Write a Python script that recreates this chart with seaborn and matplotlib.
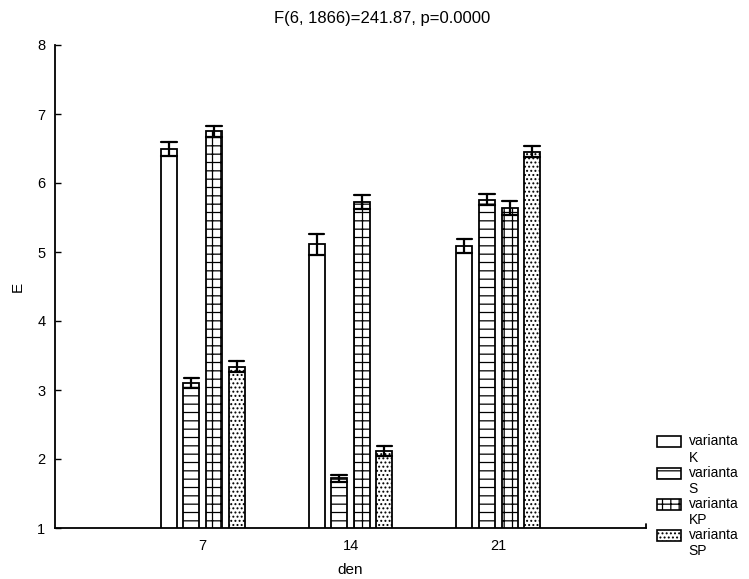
import matplotlib
matplotlib.use("Agg")
import matplotlib.pyplot as plt
from matplotlib.patches import Patch, Rectangle
from matplotlib.legend_handler import HandlerPatch
import seaborn as sns
import pandas as pd

# ---- data ----
days = ["7", "14", "21"]
variants = ["K", "S", "KP", "SP"]
mean_K = [6.49, 5.11, 5.09]
mean_S = [3.10, 1.72, 5.76]
mean_KP = [6.75, 5.73, 5.64]
mean_SP = [3.34, 2.12, 6.45]
err_K = [0.10, 0.15, 0.10]
err_S = [0.07, 0.05, 0.08]
err_KP = [0.08, 0.10, 0.10]
err_SP = [0.08, 0.07, 0.08]
hatches = ["", "--", "++", "...."]

title = "F(6, 1866)=241.87, p=0.0000"

sns.set_theme(style="white")
plt.rcParams["font.family"] = ["Liberation Sans", "DejaVu Sans"]
plt.rcParams["hatch.linewidth"] = 0.9
plt.rcParams["hatch.color"] = "black"
plt.rcParams["text.color"] = "black"
plt.rcParams["axes.labelcolor"] = "black"

means = {"K": mean_K, "S": mean_S, "KP": mean_KP, "SP": mean_SP}
errs = {"K": err_K, "S": err_S, "KP": err_KP, "SP": err_SP}
rows = []
for v in variants:
    for d, m, e in zip(days, means[v], errs[v]):
        # two points per bar: mean equals m, min/max span the error bar
        rows.append({"den": d, "varianta": v, "E": m - e})
        rows.append({"den": d, "varianta": v, "E": m + e})
df = pd.DataFrame(rows)

fig = plt.figure(figsize=(7.49, 5.79), dpi=100)
ax = fig.add_axes([55 / 749, 1 - 528 / 579, (646 - 55) / 749, (528 - 45) / 579])

sns.barplot(data=df, x="den", y="E", hue="varianta", order=days, hue_order=variants,
            palette=["white"] * 4, edgecolor="black", linewidth=1.3,
            errorbar=("pi", 100), capsize=0.42,
            err_kws={"color": "black", "linewidth": 1.6},
            width=0.61, gap=0.29, legend=False, ax=ax)

for cont, h in zip(ax.containers, hatches):
    for bar in cont:
        bar.set_hatch(h)

ax.set_ylim(1, 8)
ax.set_xlim(-1, 3)
ax.set_yticks(range(1, 9))
for s in ["top", "right"]:
    ax.spines[s].set_visible(False)
for s in ["left", "bottom"]:
    ax.spines[s].set_color("black")
    ax.spines[s].set_linewidth(1.3)
ax.tick_params(axis="y", left=True, direction="in", length=4, width=1.0, colors="black",
               labelsize=10.5, pad=7)
ax.tick_params(axis="x", bottom=False, length=0, labelsize=10.5, pad=8, colors="black")
ax.set_xlabel("den", fontsize=11, labelpad=7)
ax.set_ylabel("E", fontsize=11, labelpad=9)
ax.grid(False)
# small end mark at the right end of the x axis
ax.plot([3, 3], [1, 1.06], color="black", lw=1.3, clip_on=False)

fig.text(0.51, 1 - 18 / 579, title, ha="center", va="center", fontsize=12)


def top_patch(legend, orig_handle, xdescent, ydescent, width, height, fontsize):
    return Rectangle((-xdescent, -ydescent + fontsize * 0.6), width, height)


handles = [Patch(facecolor="white", edgecolor="black", hatch=h, linewidth=1.2,
                 label="varianta\n" + v) for h, v in zip(hatches, variants)]
fig.legend(handles=handles, loc="lower left", bbox_to_anchor=(651 / 749, 1 - 564 / 579),
           frameon=False, fontsize=10, handlelength=1.75, handleheight=0.85,
           handletextpad=0.55, labelspacing=0.08, borderaxespad=0,
           handler_map={Patch: HandlerPatch(patch_func=top_patch)})

fig.savefig("out.png", dpi=100)
